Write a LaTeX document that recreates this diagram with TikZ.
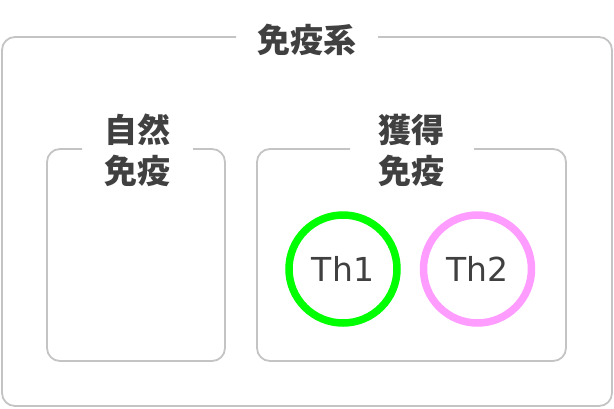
\documentclass[tikz,border=0pt]{standalone}
\usepackage{fontspec}
\newfontfamily\cjk{Noto Sans CJK JP}
\newfontfamily\latinsans{DejaVu Sans}
\definecolor{boxgray}{HTML}{C4C4C4}
\definecolor{textgray}{HTML}{404040}
\definecolor{thgreen}{HTML}{00FF00}
\definecolor{thpink}{HTML}{FF9CFF}
\begin{document}
\begin{tikzpicture}[x=1pt,y=-1pt,
  frame/.style={draw=boxgray,line width=1.8pt,rounded corners=13pt},
  title/.style={text=textgray,font=\cjk\bfseries\fontsize{33}{41}\selectfont,align=center,inner sep=0pt},
  cell/.style={circle,line width=7.5pt,minimum size=108pt,inner sep=0pt,text=textgray,font=\latinsans\fontsize{33}{38}\selectfont}]
\useasboundingbox (0,0) rectangle (614,408);
% outer frame
\draw[frame] (378,37) -- (612,37) -- (612,406) -- (2,406) -- (2,37) -- (236,37);
\node[title] (sys) at (307,40) {免疫系};
% innate
\draw[frame] (193,149) -- (225,149) -- (225,361) -- (47,361) -- (47,149) -- (82,149);
\node[title] (innate) at (137,150) {自然\\免疫};
% acquired
\draw[frame] (474,149) -- (566,149) -- (566,361) -- (257,361) -- (257,149) -- (350,149);
\node[title] (acq) at (411,150) {獲得\\免疫};
\node[cell,draw=thgreen] (th1) at (343,269) {Th1};
\node[cell,draw=thpink] (th2) at (477.5,269) {Th2};
\end{tikzpicture}
\end{document}
